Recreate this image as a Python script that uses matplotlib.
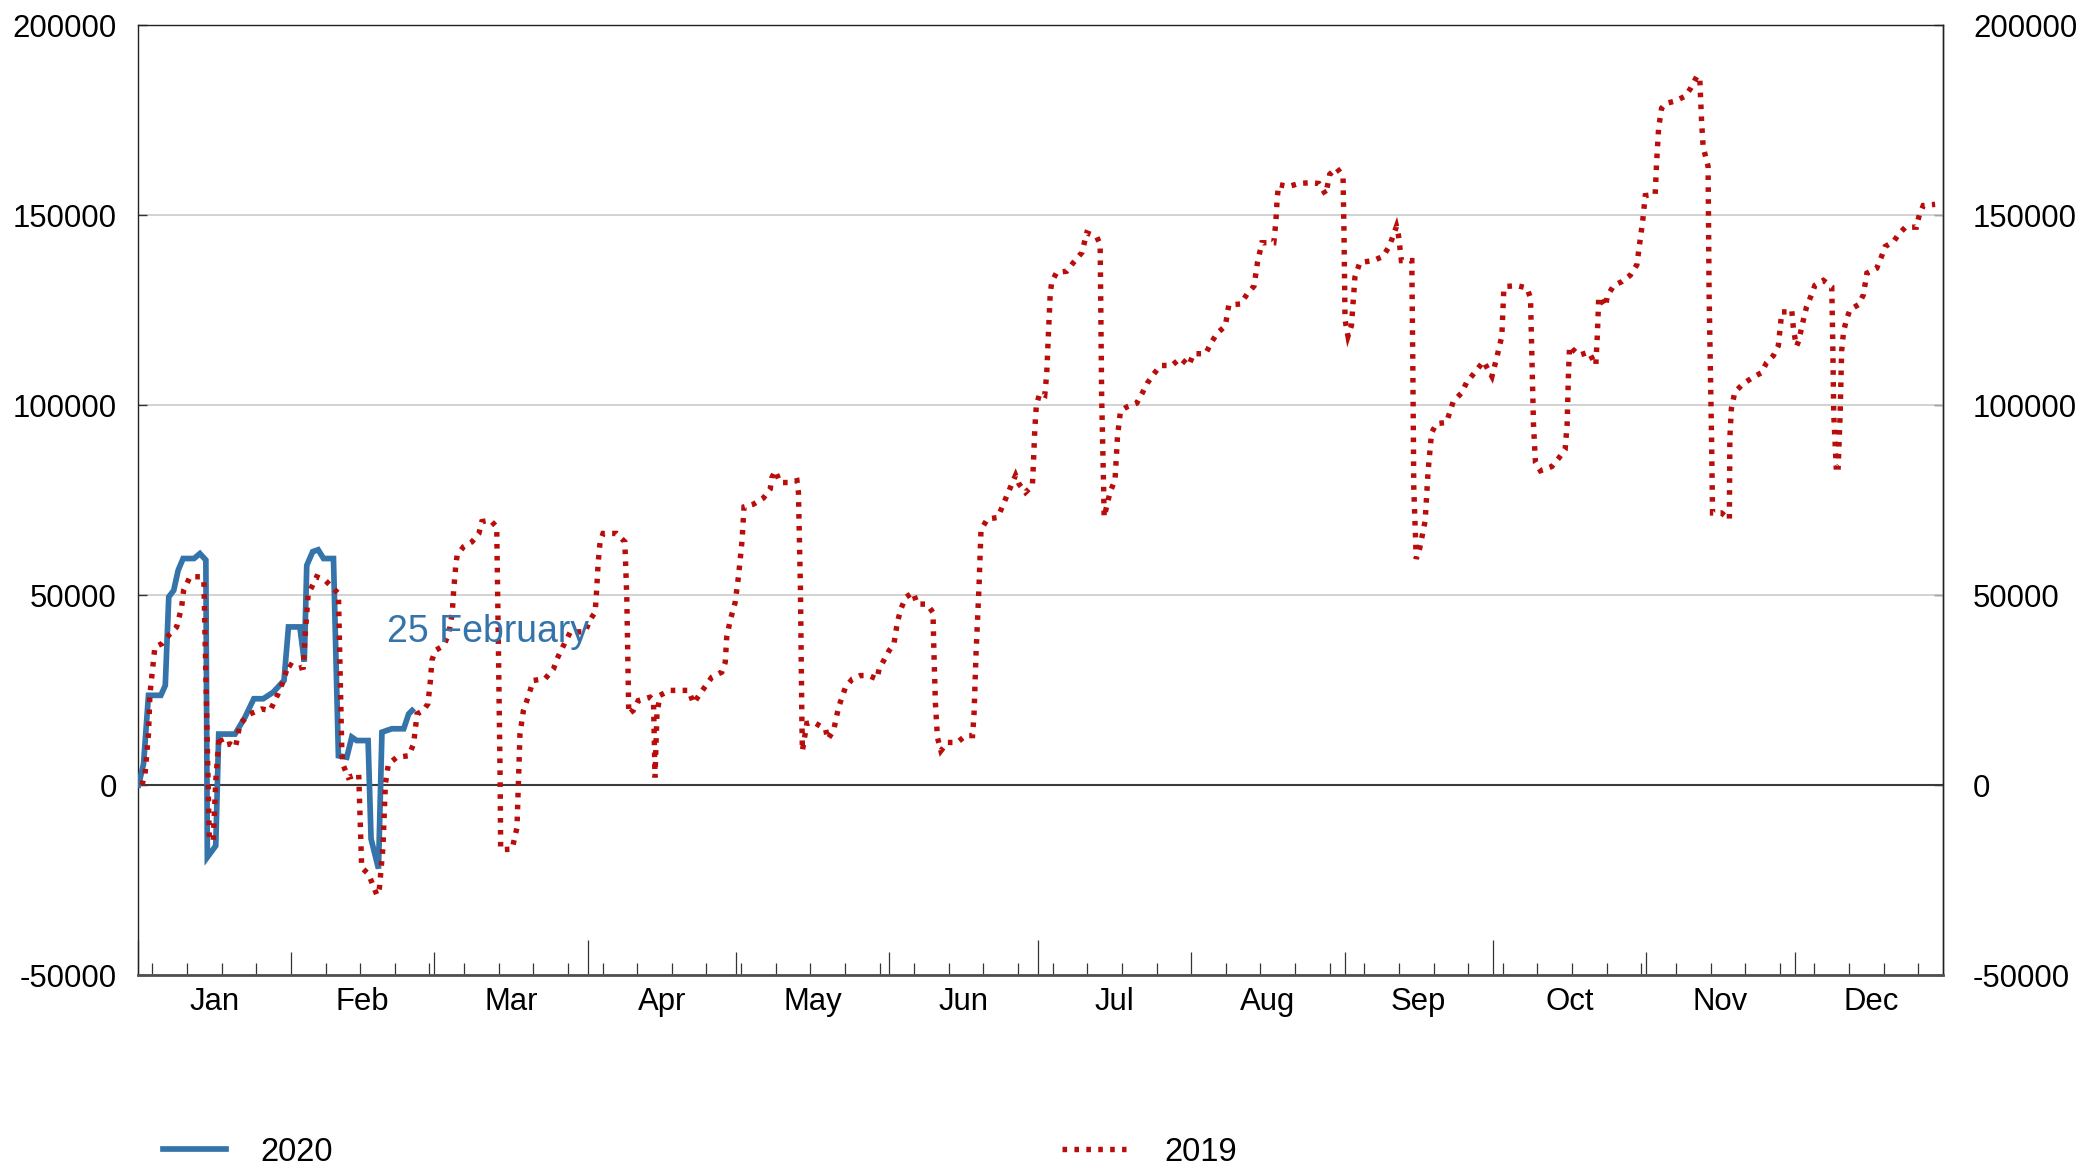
import matplotlib
matplotlib.use('Agg')
import matplotlib.pyplot as plt
from matplotlib.ticker import FixedLocator, NullFormatter

plt.rcParams['font.family'] = ['Liberation Sans', 'DejaVu Sans']

# ---------------- data ----------------
month_labels = ['Jan', 'Feb', 'Mar', 'Apr', 'May', 'Jun',
                'Jul', 'Aug', 'Sep', 'Oct', 'Nov', 'Dec']
month_start_days = [0, 31, 60, 91, 121, 152, 182, 213, 244, 274, 305, 335, 366]
y_ticks = [-50000, 0, 50000, 100000, 150000, 200000]
y_tick_labels = ['-50000', '0', '50000', '100000', '150000', '200000']

days_2020 = [0.2, 1.2, 2.2, 4.7, 5.6, 6.3, 7.3, 8.2, 9.2, 11.4, 12.6, 13.8, 14.1,
             15.8, 16.4, 19.7, 21.7, 23.5, 25.4, 27.4, 29.6, 30.5, 32.8, 33.7,
             34.2, 35.4, 36.5, 37.6, 39.6, 40.6, 42.3, 43.3, 44.3, 46.6, 47.2,
             48.7, 49.4, 51.4, 53.8, 54.8, 55.5]
values_2020 = [0, 5500, 23600, 23600, 26200, 49500, 51200, 56500, 59600, 59600,
               60900, 59200, -19000, -16000, 13400, 13400, 17800, 22700, 22700,
               24400, 27500, 41600, 41600, 32500, 57800, 61400, 61900, 59600,
               59600, 7700, 7300, 12600, 11700, 11700, -14200, -22000, 13900,
               14800, 14800, 18700, 19600]

days_2019 = [
    0.9, 1.5, 2.2, 2.5, 3.2, 3.5, 4.9, 6.3, 7.9, 8.9, 9.3, 10.6, 12.6, 13.4, 14.5,
    15.3, 15.8, 16.5, 17.3, 18.7, 19.8, 20.7, 22.7, 25.1, 26.8, 28.4, 29.5, 30.5,
    32.2, 33.5, 33.8, 34.5, 35.2, 36.2, 37.9, 39.3, 40.6, 41.3, 41.6, 42.6, 44.7,
    45.3, 46.7, 48.4, 48.9, 49.6, 50.1, 50.7, 52.4, 54.8, 55.8, 56.5, 57.8, 58.7,
    59.2, 59.5, 60.2, 61.9, 62.9, 63.6, 63.9, 64.3, 64.6, 65.9, 67.6, 69.0, 69.6,
    71.3, 72.6, 72.9, 73.3, 73.4, 75.7, 76.7, 77.0, 77.3, 78.0, 78.7, 80.0, 82.4,
    84.1, 84.8, 86.1, 87.5, 90.5, 91.4, 92.5, 92.8, 93.1, 93.5, 94.1, 96.8, 98.5,
    98.9, 99.2, 99.3, 100.2, 101.2, 103.6, 104.3, 104.6, 105.0, 105.6, 107.6,
    111.4, 112.4, 113.7, 116.1, 118.1, 118.8, 119.1, 119.8, 120.8, 121.5, 122.2,
    122.6, 124.5, 126.5, 127.9, 128.2, 128.9, 129.9, 131.6, 133.3, 133.6, 134.0,
    134.3, 134.4, 135.3, 136.7, 139.1, 139.5, 140.7, 141.7, 143.1, 144.5, 146.1,
    147.8, 149.5, 149.9, 151.9, 152.9, 153.6, 154.3, 155.3, 156.8, 157.6, 159.6,
    160.8, 161.0, 161.3, 161.7, 162.4, 163.7, 165.7, 167.4, 168.8, 169.1, 169.5,
    170.1, 170.5, 170.8, 171.8, 173.9, 175.6, 176.6, 177.5, 178.2, 179.5, 180.9,
    181.1, 181.4, 181.7, 182.4, 183.4, 183.8, 184.1, 184.5, 184.8, 185.8, 187.8,
    189.2, 190.9, 191.9, 193.9, 194.6, 194.7, 194.9, 195.3, 195.4, 196.6, 197.6,
    198.1, 198.7, 200.0, 202.0, 203.1, 204.1, 205.4, 206.8, 209.1, 210.8, 212.5,
    213.5, 215.9, 217.2, 218.2, 219.9, 220.6, 223.0, 224.3, 225.7, 226.4, 227.3,
    229.7, 230.1, 230.4, 230.7, 232.7, 234.8, 237.1, 238.8, 240.2, 241.0, 242.4,
    243.7, 243.9, 244.1, 244.7, 245.4, 246.1, 247.1, 249.8, 251.8, 253.1, 254.5,
    254.9, 255.5, 257.6, 257.8, 258.0, 258.5, 259.2, 260.3, 260.9, 261.6, 262.6,
    264.6, 266.0, 267.7, 268.7, 270.1, 272.1, 273.8, 274.8, 275.8, 276.2, 276.6,
    278.9, 280.9, 281.6, 281.9, 282.2, 282.6, 283.6, 285.9, 287.3, 288.6, 289.0,
    289.3, 289.5, 290.0, 291.4, 293.4, 294.8, 295.1, 295.4, 296.8, 297.1, 298.4,
    300.1, 301.8, 303.1, 304.3, 304.8, 306.8, 307.1, 307.5, 308.1, 308.8, 310.9,
    312.9, 313.9, 315.2, 315.8, 316.2, 316.5, 317.5, 317.7, 318.2, 318.4, 320.2,
    321.8, 321.9, 322.2, 322.9, 324.6, 326.6, 328.3, 329.3, 330.7, 331.7, 332.4,
    333.4, 334.4, 334.8, 335.4, 335.8, 336.8, 337.4, 338.4, 339.1, 340.8, 342.5,
    342.7, 342.9, 343.4, 343.8, 344.2, 344.5, 344.9, 345.5, 346.2, 347.9, 348.9,
    349.6, 351.6, 352.6, 353.3, 355.0, 356.0, 357.4, 359.6, 360.2, 361.0, 363.4]
values_2019 = [
    0, 2900, 13400, 24000, 32800, 36300, 37200, 39400, 41600, 46800, 51200, 54800,
    54800, 53900, -14500, -14500, 1100, 13000, 10400, 10800, 9900, 16100, 18700,
    20000, 19600, 24000, 27500, 31900, 30600, 31000, 38100, 50400, 52100, 54800,
    53900, 52100, 50400, 8200, 5100, 2000, 2900, -21700, -23500, -29000, -27000,
    -16400, 300, 5500, 7300, 7700, 10800, 18700, 19600, 21400, 27500, 32800, 35400,
    36700, 39800, 45100, 51200, 57400, 60500, 62700, 64000, 66200, 69300, 69700,
    67900, 40700, 1100, -17000, -16900, -11200, 1100, 13400, 19600, 22200, 27500,
    28000, 30600, 33200, 36700, 40300, 40300, 43300, 45500, 51200, 58300, 64000,
    66200, 66200, 64000, 49500, 27500, 18700, 19600, 22200, 23100, 22200, 2000,
    18700, 23600, 24900, 24900, 21500, 24000, 28400, 29700, 32300, 38900, 43300,
    48000, 55100, 64300, 73200, 73900, 75500, 77900, 80800, 82700, 79600, 79600,
    80100, 77000, 52000, 16900, 9000, 16200, 16500, 14700, 12000, 14300, 20400,
    25700, 27900, 28800, 28800, 27900, 30500, 35300, 37100, 42800, 46300, 49400,
    50700, 47600, 47600, 45400, 34500, 21300, 12500, 9000, 11200, 11200, 13000,
    13000, 18700, 34500, 52000, 66900, 67800, 70000, 70400, 75700, 78800, 81500,
    79200, 77000, 78800, 84500, 94000, 100000, 103100, 102600, 108300, 117700,
    129200, 132300, 134900, 135200, 137500, 140100, 145300, 144300, 142200,
    128100, 102100, 78100, 70500, 77100, 80200, 91700, 98400, 99500, 100500,
    103100, 105700, 108100, 110400, 110400, 112300, 110400, 113500, 113500,
    116700, 118800, 120800, 126300, 126600, 129200, 131300, 137500, 142700,
    142700, 147900, 154700, 158000, 157500, 158300, 158500, 158300, 155400,
    160700, 162400, 160200, 144700, 122500, 118100, 120900, 133600, 137500,
    138000, 139100, 141900, 147000, 144700, 138000, 138000, 111500, 78300, 59500,
    62300, 69500, 82700, 92700, 95100, 95400, 101000, 103200, 106000, 108200,
    111500, 107500, 112600, 118100, 130300, 131200, 131400, 130800, 128100,
    111500, 94900, 84900, 82700, 83800, 86000, 88300, 94900, 109300, 115500,
    114800, 113100, 113900, 110500, 118100, 128500, 125900, 128600, 131400,
    132500, 134200, 136900, 148700, 155100, 155400, 164000, 172900, 178100,
    179300, 180000, 181300, 183200, 186400, 186400, 174200, 167900, 162800,
    129600, 91300, 71600, 71600, 69900, 91300, 99000, 103400, 105600, 107300,
    108500, 111100, 113000, 115600, 124500, 124500, 125100, 119400, 115500,
    116800, 122600, 125800, 129000, 131500, 132800, 131100, 116800, 97700, 83700,
    83700, 97700, 114300, 119400, 122600, 125100, 126400, 129000, 134700, 136000,
    139200, 141700, 143000, 144900, 146800, 146800, 150000, 152500, 152800]

annotation_text = '25 February'

# ---------------- styling ----------------
BLUE = '#3474aa'
RED = '#b80d0a'
TICK_COLOR = '#333333'
FS = 22.4

fig = plt.figure(figsize=(21, 11.69), dpi=100)
ax = fig.add_axes([0.06552, 0.16595, 0.85974, 0.81266])
ax.set_xlim(0, 365)
ax.set_ylim(y_ticks[0], y_ticks[-1])

# grid and zero line
ax.set_yticks(y_ticks, labels=y_tick_labels)
ax.yaxis.grid(True, color='#c6c6c6', lw=1.1, zorder=0)
ax.set_axisbelow(True)
ax.axhline(0, color='#3a3a3a', lw=1.5, zorder=1.5)

# series
l20, = ax.plot(days_2020, values_2020, color=BLUE, lw=4.1,
               solid_joinstyle='miter', label='2020', zorder=3)
l19, = ax.plot(days_2019, values_2019, color=RED, lw=3.9,
               linestyle=(0, (0.85, 1.35)), dash_joinstyle='miter',
               dash_capstyle='butt', label='2019', zorder=4)

ax.text(50.35, 37700, annotation_text, color=BLUE, fontsize=27,
        ha='left', va='baseline', zorder=5)

# spines
for s in ('left', 'right', 'top'):
    ax.spines[s].set_color('#222222')
    ax.spines[s].set_linewidth(1.0)
ax.spines['bottom'].set_color('#505050')
ax.spines['bottom'].set_linewidth(2.0)

# x ticks: month starts (major), weekly (minor), quarters (secondary)
quarter_days = month_start_days[0:12:3]
other_month_days = [d for i, d in enumerate(month_start_days[:12]) if i % 3]
weekly_days = list(range(3, 366, 7))
ax.xaxis.set_major_locator(FixedLocator(other_month_days))
ax.xaxis.set_minor_locator(FixedLocator(weekly_days))
ax.xaxis.set_major_formatter(NullFormatter())
ax.xaxis.set_minor_formatter(NullFormatter())
ax.tick_params(axis='x', which='major', direction='in', length=16.5,
               width=0.9, color=TICK_COLOR, top=False)
ax.tick_params(axis='x', which='minor', direction='in', length=8.4,
               width=0.9, color=TICK_COLOR, top=False)

sq = ax.secondary_xaxis('bottom')
sq.set_xticks(quarter_days, labels=['' for _ in quarter_days])
sq.tick_params(direction='in', length=25, width=0.9, color=TICK_COLOR)
sq.spines['bottom'].set_visible(False)

mids = [(a + b) / 2 for a, b in zip(month_start_days[:-1], month_start_days[1:])]
sl = ax.secondary_xaxis('bottom')
sl.set_xticks(mids, labels=month_labels)
sl.tick_params(length=0, pad=8.5, labelsize=FS)
sl.spines['bottom'].set_visible(False)

# y ticks left and right
ax.tick_params(axis='y', direction='in', length=6.5, width=1.0,
               color=TICK_COLOR, labelsize=FS, pad=15, right=False)
sy = ax.secondary_yaxis('right')
sy.set_yticks(y_ticks, labels=y_tick_labels)
sy.tick_params(direction='in', length=6.5, width=1.0, color=TICK_COLOR,
               labelsize=FS, pad=21.6)
sy.spines['right'].set_color('#222222')
sy.spines['right'].set_linewidth(1.0)

# legends
common = dict(loc='center left', frameon=False, fontsize=23.5,
              handlelength=1.95, borderpad=0, borderaxespad=0)
fig.legend(handles=[l20], labels=['2020'], bbox_to_anchor=(0.0775, 0.0145),
           handletextpad=1.05, **common)
fig.legend(handles=[l19], labels=['2019'], bbox_to_anchor=(0.5057, 0.0145),
           handletextpad=1.2, **common)

fig.savefig('out.png', dpi=100)
